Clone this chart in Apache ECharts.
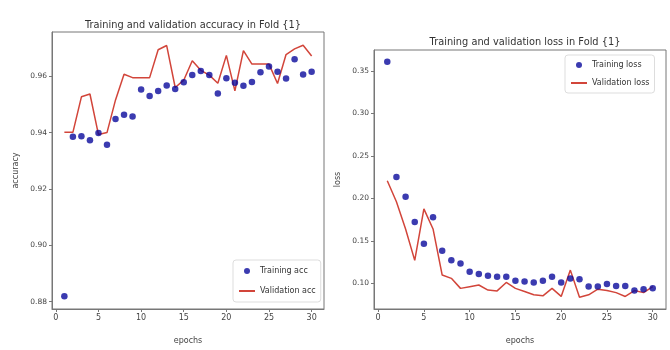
<!DOCTYPE html>
<html>
<head>
<meta charset="utf-8">
<script src="https://cdn.jsdelivr.net/npm/echarts@6/dist/echarts.min.js"></script>
<style>html,body{margin:0;padding:0;background:#fff}#c{width:670px;height:350px}</style>
</head>
<body>
<div id="c"></div>
<script>
var epochs = [1,2,3,4,5,6,7,8,9,10,11,12,13,14,15,16,17,18,19,20,21,22,23,24,25,26,27,28,29,30];
var trainAcc = [0.8819,0.9385,0.9387,0.9373,0.9399,0.9357,0.9448,0.9463,0.9457,0.9553,0.9530,0.9548,0.9567,0.9555,0.9579,0.9604,0.9619,0.9604,0.9539,0.9593,0.9577,0.9566,0.9580,0.9614,0.9635,0.9616,0.9592,0.9660,0.9606,0.9616];
var valAcc = [0.9401,0.9401,0.9527,0.9537,0.9393,0.9400,0.9516,0.9607,0.9595,0.9595,0.9595,0.9694,0.9709,0.9560,0.9586,0.9655,0.9621,0.9604,0.9575,0.9674,0.9548,0.9691,0.9643,0.9643,0.9643,0.9574,0.9677,0.9697,0.9710,0.9672];
var trainLoss = [0.3609,0.2253,0.2020,0.1721,0.1467,0.1779,0.1382,0.1272,0.1234,0.1136,0.1109,0.1090,0.1078,0.1078,0.1031,0.1020,0.1008,0.1031,0.1078,0.1008,0.1055,0.1047,0.0961,0.0961,0.0992,0.0969,0.0969,0.0914,0.0930,0.0942];
var valLoss = [0.2207,0.1960,0.1640,0.1270,0.1876,0.1640,0.1097,0.1058,0.0940,0.0960,0.0980,0.0920,0.0910,0.1010,0.0940,0.0903,0.0864,0.0852,0.0940,0.0845,0.1155,0.0836,0.0864,0.0930,0.0914,0.0890,0.0845,0.0914,0.0890,0.0960];
var xTicks = [0,5,10,15,20,25,30];
var accTicks = [0.88,0.90,0.92,0.94,0.96];
var lossTicks = [0.10,0.15,0.20,0.25,0.30,0.35];

function pairs(xs, ys){ return xs.map(function(x,i){ return [x, ys[i]]; }); }

var font = 'DejaVu Sans';
var txt = '#444';
var red = '#d2453a';
var blue = '#0a0a9c';
function xAxis(idx){
  return {
    type:'value', gridIndex: idx, min:-0.45, max:31.45,
    name:'epochs', nameLocation:'middle', nameGap:28,
    nameTextStyle:{fontFamily:font,fontSize:8,color:txt},
    axisLine:{show:true,onZero:false,lineStyle:{color:'#777'}},
    axisTick:{show:true,length:3,customValues:xTicks,lineStyle:{color:'#777'}},
    axisLabel:{customValues:xTicks,fontFamily:font,fontSize:8,color:txt,margin:5},
    splitLine:{show:false}
  };
}
function yAxis(idx, mn, mx, ticks, name){
  return {
    type:'value', gridIndex: idx, min:mn, max:mx,
    name:name, nameLocation:'middle', nameGap:32, nameRotate:90,
    nameTextStyle:{fontFamily:font,fontSize:8,color:txt},
    axisLine:{show:true,onZero:false,lineStyle:{color:'#777'}},
    axisTick:{show:true,length:3,customValues:ticks,lineStyle:{color:'#777'}},
    axisLabel:{customValues:ticks,fontFamily:font,fontSize:7.5,color:txt,margin:5,
      formatter:function(v){return v.toFixed(2);}},
    splitLine:{show:false}
  };
}

var chart = echarts.init(document.getElementById('c'), null, {renderer:'canvas'});
chart.setOption({
  animation:false,
  backgroundColor:'#fff',
  title:[
    {text:'Training and validation accuracy in Fold {1}', left:188, top:15, textAlign:'center',
     textStyle:{fontFamily:font,fontSize:9.8,fontWeight:'normal',color:'#333'}},
    {text:'Training and validation loss in Fold {1}', left:520, top:32, textAlign:'center',
     textStyle:{fontFamily:font,fontSize:9.8,fontWeight:'normal',color:'#333'}}
  ],
  grid:[
    {left:52, top:32, width:272, height:278, show:true, borderColor:'#777', borderWidth:1, backgroundColor:'#fff'},
    {left:374, top:50, width:292, height:262, show:true, borderColor:'#777', borderWidth:1, backgroundColor:'#fff'}
  ],
  xAxis:[xAxis(0), xAxis(1)],
  yAxis:[yAxis(0,0.8774,0.9757,accTicks,'accuracy'), yAxis(1,0.0697,0.3748,lossTicks,'loss')],
  legend:[
    {data:[{name:'Training acc',icon:'circle'},{name:'Validation acc',itemStyle:{opacity:0}}], orient:'vertical', left:233, top:260,
     itemWidth:16, itemHeight:6, itemGap:12, padding:[7,5,7,5],
     borderColor:'#ddd', borderWidth:1, borderRadius:3, backgroundColor:'#fff',
     textStyle:{fontFamily:font,fontSize:8,color:'#333'}},
    {data:[{name:'Training loss',icon:'circle'},{name:'Validation loss',itemStyle:{opacity:0}}], orient:'vertical', left:565, top:55,
     itemWidth:16, itemHeight:6, itemGap:10, padding:[6,5,6,5],
     borderColor:'#ddd', borderWidth:1, borderRadius:3, backgroundColor:'#fff',
     textStyle:{fontFamily:font,fontSize:8,color:'#333'}}
  ],
  series:[
    {name:'Validation acc', type:'line', xAxisIndex:0, yAxisIndex:0, data:pairs(epochs,valAcc),
     symbol:'none', lineStyle:{color:red, width:1.5}, itemStyle:{color:red}, z:2},
    {name:'Training acc', type:'scatter', xAxisIndex:0, yAxisIndex:0, data:pairs(epochs,trainAcc),
     symbolSize:6.5, itemStyle:{color:blue}, z:3},
    {name:'Validation loss', type:'line', xAxisIndex:1, yAxisIndex:1, data:pairs(epochs,valLoss),
     symbol:'none', lineStyle:{color:red, width:1.5}, itemStyle:{color:red}, z:2},
    {name:'Training loss', type:'scatter', xAxisIndex:1, yAxisIndex:1, data:pairs(epochs,trainLoss),
     symbolSize:6.5, itemStyle:{color:blue}, z:3}
  ]
});
</script>
</body>
</html>
